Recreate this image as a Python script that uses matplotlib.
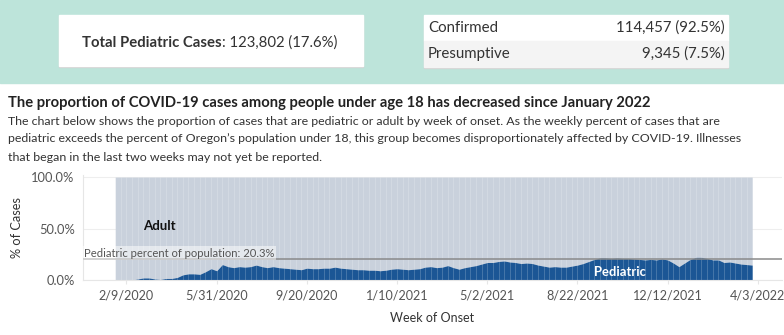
import datetime as dt

import matplotlib.pyplot as plt
from matplotlib.patches import Rectangle
import numpy as np

plt.rcParams["font.family"] = ["Lato", "DejaVu Sans"]

# weekly share of cases that are pediatric (%), week of onset starting 1/26/2020
start_week = dt.date(2020, 1, 26)
pediatric_pct = [
    0, 0, 0, 0, 1, 2, 2, 1, 0.5, 1.5,
    1.5, 2.5, 5, 6, 6, 5.5, 8, 11, 9, 15,
    13, 12, 13, 12.5, 13, 14.5, 13, 12, 13, 12,
    11.5, 11, 10.5, 10, 11.5, 11, 11, 11.5, 11.5, 12.5,
    11.5, 11, 10.5, 10, 10, 9.5, 9.5, 9, 9.5, 10.5,
    11, 10.5, 10, 10.5, 11, 12.5, 13, 12, 12.5, 14,
    12, 10.5, 12, 13, 14, 15.5, 17, 17, 18, 18.5,
    17.5, 17, 16, 16.5, 16, 14.5, 13.5, 12.5, 13, 12.5,
    12.5, 13.5, 14.5, 16, 18, 20, 21.5, 21.5, 21, 21.5,
    21, 21, 20.5, 20, 19.5, 20, 19.5, 20.5, 19.5, 16.5,
    13, 16.5, 20, 22, 22, 21, 19.5, 19.5, 17, 17.5,
    16.5, 15.5, 15, 14.5,
]
pop_share = 20.3
tick_dates = [dt.date(2020, 2, 9) + dt.timedelta(days=112 * i) for i in range(8)]
tick_labels = ["2/9/2020", "5/31/2020", "9/20/2020", "1/10/2021",
               "5/2/2021", "8/22/2021", "12/12/2021", "4/3/2022"]

total_label = "Total Pediatric Cases"
total_value = ": 123,802 (17.6%)"
status_names = ["Confirmed", "Presumptive"]
status_values = ["114,457 (92.5%)", "9,345 (7.5%)"]

title = "The proportion of COVID-19 cases among people under age 18 has decreased since January 2022"
body = [
    "The chart below shows the proportion of cases that are pediatric or adult by week of onset. As the weekly percent of cases that are",
    "pediatric exceeds the percent of Oregon\u2019s population under 18, this group becomes disproportionately affected by COVID-19. Illnesses",
    "that began in the last two weeks may not yet be reported.",
]

W, H = 784, 335
fig = plt.figure(figsize=(W / 100, H / 100), dpi=100)


def px(x, y):
    return x / W, 1 - y / H


def box(x0, y0, x1, y1, color, z=0):
    fig.patches.append(Rectangle((x0 / W, 1 - y1 / H), (x1 - x0) / W, (y1 - y0) / H,
                                 transform=fig.transFigure, color=color, zorder=z))


# header band with KPI boxes
box(0, 0, W, 83, "#bde4da")
box(59, 16, 363, 67, "#d2d2d2", 1)
box(59, 15, 363, 66, "white", 2)
box(424, 16, 728, 68, "#d2d2d2", 1)
box(424, 15, 728, 41, "white", 2)
box(424, 41, 728, 67, "#f4f4f4", 2)

t = fig.text(*px(82, 43), total_label, fontsize=10.7, fontweight="bold",
             color="#333333", va="center", zorder=3)
renderer = fig.canvas.get_renderer()
bb = t.get_window_extent(renderer)
fig.text(bb.x1 / W, 1 - 43 / H, total_value, fontsize=10.7, color="#333333",
         va="center", zorder=3)
for i, (name, val) in enumerate(zip(status_names, status_values)):
    yy = 28 + 26 * i
    fig.text(*px(428, yy), name, fontsize=10.8, color="#333333", va="center", zorder=3)
    fig.text(*px(725, yy), val, fontsize=10.8, color="#333333", va="center",
             ha="right", zorder=3)

fig.text(*px(8, 103), title, fontsize=10.6, fontweight="bold", color="#222222", va="center")
for i, line in enumerate(body):
    fig.text(*px(8, 121 + 18 * i), line, fontsize=8.9, color="#333333", va="center")

# chart
ax = fig.add_axes([83 / W, 1 - 280 / H, (782 - 83) / W, 105 / H])
weeks = [start_week + dt.timedelta(weeks=i) for i in range(len(pediatric_pct))]
ped = np.array(pediatric_pct)
ax.fill_between(weeks, ped, 100, color="#c9d1dc", lw=0, zorder=1)
ax.fill_between(weeks, 0, ped, color="#1b5695", lw=0, zorder=2)
ax.vlines(weeks[1:-1], 0, 100, color="white", alpha=0.22, lw=0.6, zorder=3)

ax.axhline(pop_share, color="#8a8a8a", lw=1.1, zorder=4)
ax.text(dt.date(2019, 12, 18), 26, "Pediatric percent of population: 20.3%",
        fontsize=8.1, color="#555555", va="center", zorder=5,
        bbox=dict(facecolor="white", alpha=0.5, edgecolor="none", pad=1.0))
ax.text(dt.date(2020, 3, 21), 52, "Adult", fontsize=9.5, fontweight="bold",
        color="#111111", ha="center", va="center", zorder=5)
ax.text(dt.date(2021, 10, 14), 8, "Pediatric", fontsize=9.4, fontweight="bold",
        color="white", ha="center", va="center", zorder=5)

ax.set_xlim(dt.date(2019, 12, 17), dt.date(2022, 5, 3))
ax.set_ylim(0, 102)
ax.set_yticks([0, 50, 100])
ax.set_yticklabels(["0.0%", "50.0%", "100.0%"])
ax.set_xticks(tick_dates)
ax.set_xticklabels(tick_labels)
ax.grid(axis="y", color="#eeeeee", lw=0.8, zorder=0)
ax.set_axisbelow(True)
for s in ["top", "right"]:
    ax.spines[s].set_visible(False)
ax.spines["left"].set_color("#e6e6e6")
ax.spines["bottom"].set_color("#e6e6e6")
ax.tick_params(axis="both", colors="#e6e6e6", labelcolor="#555555", labelsize=9.1,
               length=3)
ax.tick_params(axis="y", length=0, pad=6, labelsize=9.3)
ax.set_ylabel("% of Cases", fontsize=9.2, color="#333333", labelpad=6)
ax.set_xlabel("Week of Onset", fontsize=9, color="#333333", labelpad=8)

fig.savefig("out.png", dpi=100)
